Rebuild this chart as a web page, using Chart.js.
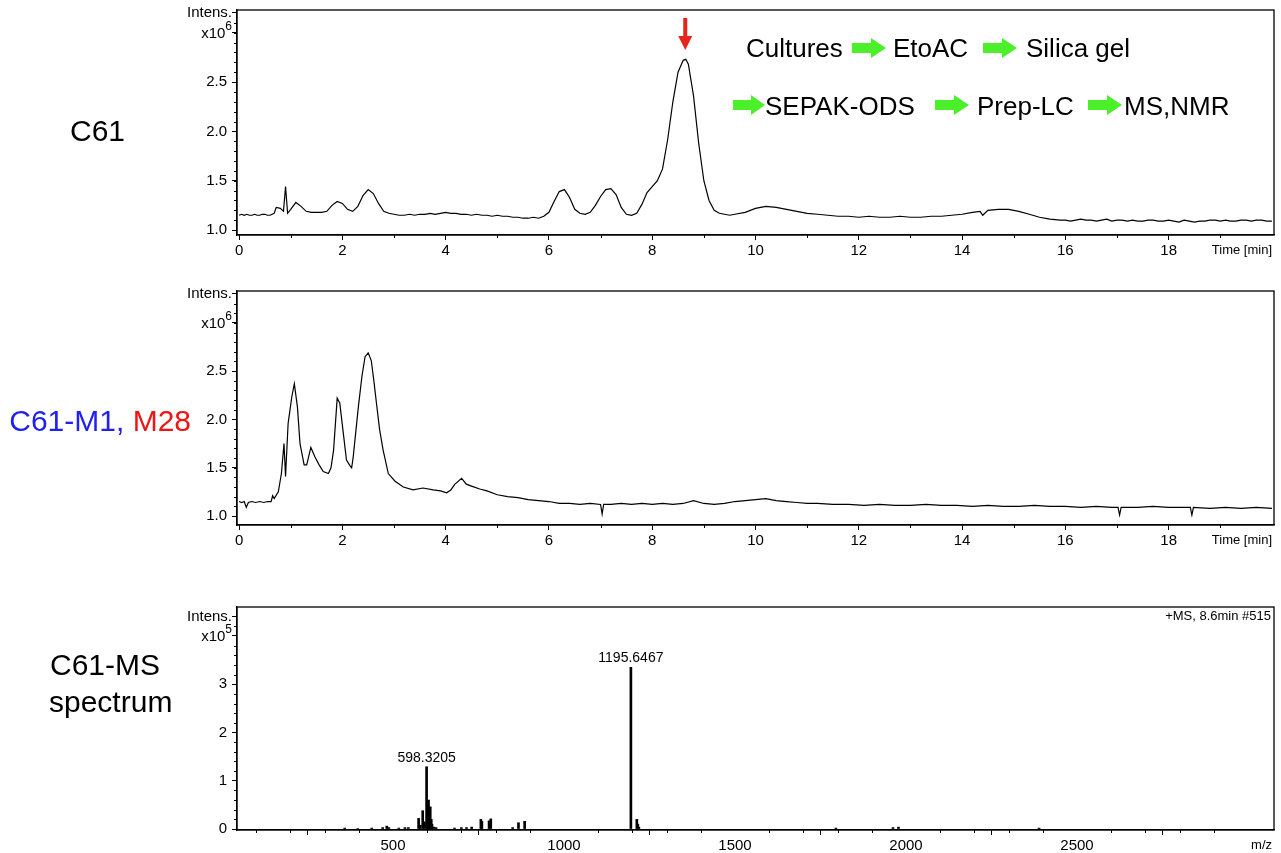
<!DOCTYPE html>
<html>
<head>
<meta charset="utf-8">
<script src="https://cdn.jsdelivr.net/npm/chart.js@4/dist/chart.umd.min.js"></script>
<style>
  body { margin: 0; background: #fff; width: 1281px; height: 853px; position: relative; overflow: hidden;
         font-family: "Liberation Sans", Arial, Helvetica, sans-serif; color: #000; }
  canvas { position: absolute; left: 0; }
  .side { position: absolute; font-size: 30px; line-height: 34px; white-space: nowrap; }
  .flow { position: absolute; font-size: 26px; line-height: 30px; white-space: nowrap; }
  .garr { position: absolute; }
</style>
</head>
<body>

<canvas id="c1" width="1281" height="260" style="top:0px"></canvas>
<canvas id="c2" width="1281" height="270" style="top:280px"></canvas>
<canvas id="c3" width="1281" height="258" style="top:595px"></canvas>

<!-- side labels -->
<div class="side" style="left:70px;top:114px">C61</div>
<div class="side" style="right:1090px;top:404px"><span style="color:#2020f0">C61-M1, </span><span style="color:#f01414">M28</span></div>
<div class="side" style="left:50px;top:648px">C61-MS</div>
<div class="side" style="left:49px;top:685px">spectrum</div>

<!-- isolation workflow -->
<div class="flow" style="left:746px;top:33px">Cultures</div>
<svg class="garr" style="left:852px;top:38px" width="34" height="20"><polygon points="0,5 19,5 19,0 34,10 19,20 19,15 0,15" fill="#4cf02a"/></svg>
<div class="flow" style="left:893px;top:33px">EtoAC</div>
<svg class="garr" style="left:983px;top:38px" width="34" height="20"><polygon points="0,5 19,5 19,0 34,10 19,20 19,15 0,15" fill="#4cf02a"/></svg>
<div class="flow" style="left:1026px;top:33px">Silica gel</div>

<svg class="garr" style="left:733px;top:95px" width="32" height="20"><polygon points="0,5 18,5 18,0 32,10 18,20 18,15 0,15" fill="#4cf02a"/></svg>
<div class="flow" style="left:765px;top:91px">SEPAK-ODS</div>
<svg class="garr" style="left:935px;top:95px" width="34" height="20"><polygon points="0,5 19,5 19,0 34,10 19,20 19,15 0,15" fill="#4cf02a"/></svg>
<div class="flow" style="left:977px;top:91px">Prep-LC</div>
<svg class="garr" style="left:1088px;top:95px" width="34" height="20"><polygon points="0,5 19,5 19,0 34,10 19,20 19,15 0,15" fill="#4cf02a"/></svg>
<div class="flow" style="left:1124px;top:91px">MS,NMR</div>

<script>
// ================= DATA: C61 chromatogram (Intens. x10^6) =================
const c61Time = [
  0.00, 0.05, 0.10, 0.15, 0.20, 0.25, 0.30, 0.35, 0.40, 0.45,
  0.50, 0.55, 0.60, 0.68, 0.72, 0.80, 0.86, 0.90, 0.94, 1.00,
  1.10, 1.20, 1.30, 1.40, 1.50, 1.60, 1.70, 1.80, 1.90, 2.00,
  2.10, 2.20, 2.30, 2.40, 2.50, 2.60, 2.70, 2.80, 2.90, 3.00,
  3.10, 3.20, 3.30, 3.40, 3.50, 3.60, 3.70, 3.80, 3.90, 4.00,
  4.10, 4.20, 4.30, 4.40, 4.50, 4.60, 4.70, 4.80, 4.90, 5.00,
  5.10, 5.20, 5.30, 5.40, 5.50, 5.60, 5.70, 5.80, 5.90, 6.00,
  6.10, 6.20, 6.30, 6.40, 6.50, 6.60, 6.70, 6.80, 6.90, 7.00,
  7.10, 7.20, 7.30, 7.40, 7.50, 7.60, 7.70, 7.80, 7.90, 8.00,
  8.10, 8.20, 8.30, 8.40, 8.50, 8.60, 8.65, 8.70, 8.80, 8.90,
  9.00, 9.10, 9.20, 9.30, 9.40, 9.50, 9.60, 9.80, 10.00, 10.20,
  10.40, 10.60, 10.80, 11.00, 11.20, 11.40, 11.60, 11.80, 12.00, 12.20,
  12.40, 12.60, 12.80, 13.00, 13.20, 13.40, 13.60, 13.80, 14.00, 14.20,
  14.35, 14.40, 14.50, 14.70, 14.90, 15.10, 15.30, 15.50, 15.70, 15.90,
  16.00, 16.10, 16.20, 16.30, 16.40, 16.50, 16.60, 16.70, 16.80, 16.90,
  17.00, 17.10, 17.20, 17.30, 17.40, 17.50, 17.60, 17.70, 17.80, 17.90,
  18.00, 18.10, 18.20, 18.30, 18.40, 18.50, 18.60, 18.70, 18.80, 18.90,
  19.00, 19.10, 19.20, 19.30, 19.40, 19.50, 19.60, 19.70, 19.80, 19.90,
  20.00
];
const c61Int = [
  1.15, 1.16, 1.15, 1.16, 1.15, 1.15, 1.16, 1.15, 1.15, 1.16,
  1.16, 1.15, 1.15, 1.17, 1.23, 1.22, 1.19, 1.44, 1.17, 1.21,
  1.28, 1.24, 1.19, 1.18, 1.18, 1.18, 1.19, 1.25, 1.29, 1.27,
  1.21, 1.19, 1.24, 1.35, 1.41, 1.37, 1.27, 1.19, 1.17, 1.16,
  1.15, 1.15, 1.16, 1.15, 1.16, 1.16, 1.17, 1.16, 1.17, 1.18,
  1.17, 1.17, 1.16, 1.16, 1.15, 1.16, 1.15, 1.15, 1.14, 1.15,
  1.14, 1.14, 1.13, 1.13, 1.12, 1.12, 1.13, 1.12, 1.14, 1.18,
  1.29, 1.39, 1.41, 1.33, 1.21, 1.17, 1.16, 1.18, 1.25, 1.34,
  1.41, 1.42, 1.36, 1.23, 1.16, 1.15, 1.17, 1.26, 1.38, 1.44,
  1.50, 1.62, 1.92, 2.30, 2.60, 2.72, 2.73, 2.68, 2.36, 1.88,
  1.50, 1.30, 1.20, 1.17, 1.16, 1.15, 1.16, 1.18, 1.22, 1.24,
  1.23, 1.21, 1.19, 1.17, 1.16, 1.15, 1.14, 1.14, 1.13, 1.14,
  1.13, 1.13, 1.14, 1.13, 1.13, 1.14, 1.14, 1.15, 1.16, 1.18,
  1.19, 1.15, 1.20, 1.21, 1.21, 1.19, 1.16, 1.13, 1.11, 1.10,
  1.10, 1.09, 1.10, 1.11, 1.10, 1.10, 1.09, 1.10, 1.11, 1.09,
  1.10, 1.10, 1.09, 1.10, 1.09, 1.09, 1.10, 1.10, 1.09, 1.09,
  1.10, 1.09, 1.08, 1.10, 1.09, 1.08, 1.09, 1.09, 1.10, 1.10,
  1.09, 1.10, 1.09, 1.09, 1.10, 1.10, 1.09, 1.10, 1.10, 1.09,
  1.09
];
const c61ArrowTime = 8.64;

// ================= DATA: C61-M1, M28 chromatogram (Intens. x10^6) =================
const m1Time = [
  0.00, 0.05, 0.10, 0.14, 0.18, 0.25, 0.32, 0.40, 0.48, 0.55,
  0.62, 0.65, 0.68, 0.76, 0.82, 0.87, 0.90, 0.95, 1.02, 1.07,
  1.13, 1.18, 1.26, 1.31, 1.39, 1.47, 1.55, 1.63, 1.73, 1.78,
  1.83, 1.90, 1.95, 2.02, 2.08, 2.15, 2.18, 2.21, 2.31, 2.38,
  2.44, 2.50, 2.56, 2.61, 2.66, 2.72, 2.79, 2.89, 3.02, 3.18,
  3.37, 3.56, 3.76, 3.90, 4.02, 4.10, 4.18, 4.31, 4.40, 4.50,
  4.66, 4.80, 5.00, 5.20, 5.40, 5.60, 5.80, 6.00, 6.20, 6.40,
  6.60, 6.80, 7.00, 7.03, 7.06, 7.20, 7.40, 7.60, 7.80, 8.00,
  8.20, 8.40, 8.60, 8.80, 9.00, 9.20, 9.40, 9.60, 9.80, 10.00,
  10.20, 10.40, 10.60, 10.80, 11.00, 11.20, 11.50, 11.80, 12.10, 12.40,
  12.70, 13.00, 13.30, 13.60, 13.90, 14.20, 14.50, 14.80, 15.10, 15.40,
  15.70, 16.00, 16.30, 16.60, 16.90, 17.02, 17.05, 17.08, 17.40, 17.70,
  18.00, 18.30, 18.42, 18.45, 18.48, 18.80, 19.10, 19.40, 19.70, 20.00
];
const m1Int = [
  1.15, 1.14, 1.15, 1.09, 1.14, 1.15, 1.14, 1.15, 1.14, 1.15,
  1.15, 1.21, 1.18, 1.25, 1.44, 1.75, 1.41, 1.96, 2.23, 2.37,
  2.13, 1.75, 1.53, 1.53, 1.71, 1.61, 1.53, 1.46, 1.44, 1.50,
  1.68, 2.22, 2.17, 1.85, 1.58, 1.52, 1.50, 1.61, 2.13, 2.45,
  2.65, 2.69, 2.61, 2.40, 2.17, 1.90, 1.68, 1.44, 1.36, 1.30,
  1.27, 1.29, 1.27, 1.26, 1.24, 1.27, 1.33, 1.39, 1.33, 1.31,
  1.28, 1.26, 1.22, 1.20, 1.19, 1.17, 1.16, 1.15, 1.13, 1.13,
  1.12, 1.13, 1.12, 1.02, 1.12, 1.12, 1.13, 1.12, 1.13, 1.12,
  1.13, 1.12, 1.13, 1.16, 1.13, 1.12, 1.13, 1.15, 1.16, 1.17,
  1.18, 1.16, 1.15, 1.14, 1.13, 1.13, 1.12, 1.12, 1.11, 1.12,
  1.11, 1.11, 1.12, 1.11, 1.11, 1.10, 1.11, 1.10, 1.10, 1.11,
  1.10, 1.10, 1.09, 1.10, 1.09, 1.09, 1.01, 1.09, 1.09, 1.10,
  1.09, 1.09, 1.09, 1.01, 1.09, 1.08, 1.09, 1.08, 1.09, 1.08
];

// ================= DATA: C61 MS spectrum (Intens. x10^5) =================
const msMz = [
  359, 397, 438, 470, 482, 488, 517, 535, 545, 575,
  580, 587, 592, 598.3205, 601, 604, 606, 609, 612, 614,
  620, 626, 680, 700, 715, 730, 757, 760, 781, 786,
  850, 867, 885, 1195.6467, 1213, 1216, 1219, 1795, 1962, 1978,
  2389
];
const msInt = [
  0.02, 0.01, 0.02, 0.03, 0.06, 0.03, 0.02, 0.03, 0.03, 0.22,
  0.08, 0.38, 0.15, 1.29, 0.50, 0.60, 0.40, 0.46, 0.20, 0.10,
  0.04, 0.03, 0.02, 0.03, 0.03, 0.04, 0.20, 0.16, 0.17, 0.21,
  0.03, 0.13, 0.16, 3.35, 0.20, 0.10, 0.04, 0.02, 0.03, 0.04,
  0.02
];
const msLabelled = ['598.3205', '1195.6467'];

// ================= AXES =================
const timeMajor = [0, 2, 4, 6, 8, 10, 12, 14, 16, 18];
const timeLabels = ['0', '2', '4', '6', '8', '10', '12', '14', '16', '18'];
const c61YMajor = [1.0, 1.5, 2.0, 2.5, 3.0, 3.2];
const c61YLabels = ['1.0', '1.5', '2.0', '2.5', '', ''];
const m1YMajor = [1.0, 1.5, 2.0, 2.5, 3.0, 3.3];
const m1YLabels = ['1.0', '1.5', '2.0', '2.5', '', ''];
const mzMajor = [500, 1000, 1500, 2000, 2500, 3000];
const mzLabels = ['500', '1000', '1500', '2000', '2500', ''];
const msYMajor = [0, 1, 2, 3, 4, 4.4];
const msYLabels = ['0', '1', '2', '3', '', ''];

const FONT = '"Liberation Sans", Arial, Helvetica, sans-serif';

function steps(from, to, step) {
    const out = [];
    for (let v = from; v <= to + 1e-9; v += step) out.push(Math.round(v * 1000) / 1000);
    return out;
}

function pts(xs, ys) {
    return xs.map((x, i) => ({ x, y: ys[i] }));
}

// ================= PLUGIN: frame, minor ticks, extra texts =================
const decor = {
    id: 'decor',
    afterDraw(chart, args, o) {
        const ctx = chart.ctx;
        const a = chart.chartArea;
        const xs = chart.scales.x, ys = chart.scales.y;
        ctx.save();

        ctx.strokeStyle = '#000';
        ctx.lineWidth = 1.3;
        ctx.strokeRect(a.left, a.top, a.right - a.left, a.bottom - a.top);

        // minor ticks
        ctx.lineWidth = 1;
        ctx.beginPath();
        (o.xMinor || []).forEach(v => {
            const p = Math.round(xs.getPixelForValue(v)) + 0.5;
            ctx.moveTo(p, a.bottom); ctx.lineTo(p, a.bottom + 3);
        });
        (o.yMinor || []).forEach(v => {
            const p = Math.round(ys.getPixelForValue(v)) + 0.5;
            ctx.moveTo(a.left, p); ctx.lineTo(a.left - 3, p);
        });
        ctx.stroke();

        ctx.fillStyle = '#000';
        ctx.textBaseline = 'middle';

        // Intens. / x10^n
        const rx = a.left - 5;
        ctx.textAlign = 'right';
        ctx.font = '15px ' + FONT;
        ctx.fillText('Intens.', rx, ys.getPixelForValue(o.intensAt));
        const py = ys.getPixelForValue(o.expAt);
        ctx.font = '12px ' + FONT;
        const supW = ctx.measureText(o.exp).width;
        ctx.fillText(o.exp, rx, py - 6);
        ctx.font = '15px ' + FONT;
        ctx.fillText('x10', rx - supW, py + 1);

        // axis title at the right end
        ctx.font = '13px ' + FONT;
        ctx.fillText(o.xTitle, a.right - 2, a.bottom + 15);

        if (o.note) {
            ctx.fillText(o.note, a.right - 3, a.top + 9);
        }

        // peak labels
        ctx.textAlign = 'center';
        ctx.textBaseline = 'bottom';
        ctx.font = '14px ' + FONT;
        (o.peaks || []).forEach(pk => {
            ctx.fillText(pk.t, xs.getPixelForValue(pk.x), ys.getPixelForValue(pk.y) - 2);
        });

        // red arrow over main peak
        if (o.arrowAt !== undefined) {
            const x = xs.getPixelForValue(o.arrowAt);
            ctx.fillStyle = '#e8231b';
            ctx.fillRect(x - 2, a.top + 8, 4, 20);
            ctx.beginPath();
            ctx.moveTo(x - 7, a.top + 26);
            ctx.lineTo(x + 7, a.top + 26);
            ctx.lineTo(x, a.top + 40);
            ctx.closePath();
            ctx.fill();
        }
        ctx.restore();
    }
};

function xScale(min, max, vals, labels, h) {
    return {
        type: 'linear', min, max, offset: false,
        afterBuildTicks: s => { s.ticks = vals.map(v => ({ value: v })); },
        afterFit: s => { s.height = h; s.paddingLeft = 0; s.paddingRight = 0; },
        ticks: { autoSkip: false, maxRotation: 0, padding: 2, color: '#000',
                 font: { family: FONT, size: 15 }, callback: (v, i) => labels[i] },
        grid: { drawOnChartArea: false, tickLength: 5, color: '#000', lineWidth: 1 },
        border: { color: '#000', width: 1.3 }
    };
}

function yScale(min, max, vals, labels) {
    return {
        type: 'linear', min, max,
        afterBuildTicks: s => { s.ticks = vals.map(v => ({ value: v })); },
        afterFit: s => { s.width = 237; s.paddingTop = 0; s.paddingBottom = 0; },
        ticks: { autoSkip: false, padding: 5, color: '#000',
                 font: { family: FONT, size: 15 }, callback: (v, i) => labels[i] },
        grid: { drawOnChartArea: false, tickLength: 5, color: '#000', lineWidth: 1 },
        border: { color: '#000', width: 1.3 }
    };
}

function baseOptions(padTop) {
    return {
        responsive: false,
        animation: false,
        events: [],
        layout: { padding: { top: padTop, right: 7, left: 0, bottom: 0 } },
        plugins: { legend: { display: false }, tooltip: { enabled: false } }
    };
}

const timeMinor = steps(1, 19, 2);

// ================= C61 =================
const o1 = baseOptions(10);
o1.scales = { x: xScale(-0.04, 20.04, timeMajor, timeLabels, 25), y: yScale(0.95, 3.23, c61YMajor, c61YLabels) };
o1.plugins.decor = { xMinor: timeMinor, yMinor: steps(1.1, 3.1, 0.1), intensAt: 3.2, expAt: 3.0, exp: '6',
                     xTitle: 'Time [min]', arrowAt: c61ArrowTime };
new Chart(document.getElementById('c1'), {
    type: 'line',
    data: { datasets: [{ data: pts(c61Time, c61Int), borderColor: '#000', borderWidth: 1.2, pointRadius: 0, tension: 0 }] },
    options: o1,
    plugins: [decor]
});

// ================= C61-M1, M28 =================
const o2 = baseOptions(11);
o2.scales = { x: xScale(-0.04, 20.04, timeMajor, timeLabels, 25), y: yScale(0.907, 3.33, m1YMajor, m1YLabels) };
o2.plugins.decor = { xMinor: timeMinor, yMinor: steps(1.1, 3.2, 0.1), intensAt: 3.3, expAt: 3.0, exp: '6',
                     xTitle: 'Time [min]' };
new Chart(document.getElementById('c2'), {
    type: 'line',
    data: { datasets: [{ data: pts(m1Time, m1Int), borderColor: '#000', borderWidth: 1.2, pointRadius: 0, tension: 0 }] },
    options: o2,
    plugins: [decor]
});

// ================= MS spectrum =================
const o3 = baseOptions(12);
o3.scales = { x: xScale(44, 3076, mzMajor, mzLabels, 23), y: yScale(-0.02, 4.6, msYMajor, msYLabels) };
o3.plugins.decor = {
    xMinor: steps(100, 2900, 100).filter(v => v % 500 !== 0),
    yMinor: steps(0.2, 4.2, 0.2).filter(v => Math.abs(v - Math.round(v)) > 0.01),
    intensAt: 4.4, expAt: 4.0, exp: '5',
    xTitle: 'm/z', note: '+MS, 8.6min #515',
    peaks: msLabelled.map(t => {
        const i = msMz.indexOf(Number(t));
        return { x: msMz[i], y: msInt[i], t };
    })
};
new Chart(document.getElementById('c3'), {
    type: 'bar',
    data: { datasets: [{ data: pts(msMz, msInt), backgroundColor: '#000', barThickness: 2 }] },
    options: o3,
    plugins: [decor]
});
</script>
</body>
</html>
